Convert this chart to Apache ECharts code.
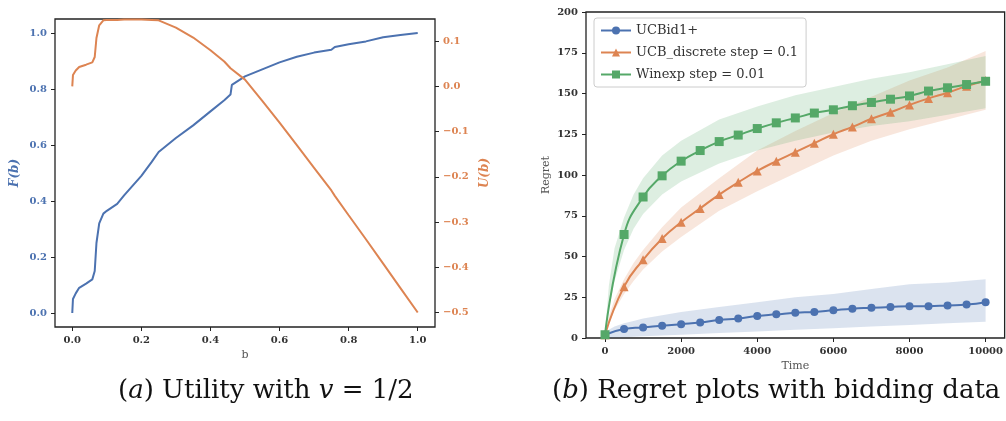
<!DOCTYPE html>
<html>
<head>
  <meta charset="utf-8">
  <title>Utility and regret</title>
  <script src="https://cdn.jsdelivr.net/npm/echarts@6/dist/echarts.min.js"></script>
  <style>
    html, body { margin: 0; padding: 0; background: #fff; }
    #main { width: 1006px; height: 421px; }
  </style>
</head>
<body>
<div id="main"></div>
<script>
  // left panel: F(b) and U(b)
  var bVals = [0, 0.002, 0.01, 0.02, 0.04, 0.058, 0.065, 0.07, 0.078, 0.09, 0.1, 0.13, 0.15, 0.2, 0.23, 0.25,
    0.3, 0.35, 0.4, 0.44, 0.458, 0.462, 0.5, 0.55, 0.6, 0.65, 0.7, 0.75, 0.76, 0.8, 0.85, 0.9, 0.95, 1.0];
  var fVals = [0, 0.05, 0.07, 0.09, 0.105, 0.12, 0.15, 0.25, 0.32, 0.355, 0.365, 0.39, 0.42, 0.49, 0.54, 0.575,
    0.625, 0.67, 0.72, 0.76, 0.78, 0.815, 0.845, 0.87, 0.895, 0.915, 0.93, 0.94, 0.95, 0.96, 0.97, 0.985, 0.993, 1.0];
  var uVals = [0, 0.025, 0.035, 0.043, 0.048, 0.053, 0.065, 0.107, 0.135, 0.146, 0.147, 0.147, 0.148, 0.148, 0.147, 0.146,
    0.13, 0.108, 0.08, 0.055, 0.04, 0.036, 0.015, -0.032, -0.08, -0.13, -0.18, -0.23, -0.242, -0.285, -0.338, -0.392, -0.446, -0.5];

  // right panel: regret curves
  var times = [0, 500, 1000, 1500, 2000, 2500, 3000, 3500, 4000, 4500, 5000, 5500, 6000, 6500, 7000, 7500, 8000, 8500, 9000, 9500, 10000];
  var ucbid = [2, 5.5, 6.5, 7.5, 8.5, 9.5, 11, 12, 13.5, 14.5, 15.5, 16, 17, 18, 18.5, 19, 19.5, 19.5, 20, 20.5, 22];
  var ucbDiscrete = [2, 31.5, 48, 61, 71, 79.5, 88, 95.5, 102.5, 108.5, 114, 119.5, 125, 129.5, 134.5, 138.5, 143, 147, 150.5, 154.5, 158];
  var winexp = [2, 63.5, 86.5, 99.5, 108.5, 115, 120.5, 124.5, 128.5, 132, 135, 138, 140, 142.5, 144.5, 146.5, 148.5, 151.5, 153.5, 155.5, 157.5];

  var bandTimes = [0, 100, 250, 500, 750, 1000, 1500, 2000, 3000, 4000, 5000, 6000, 7000, 8000, 9000, 10000];
  var ucbidLow = [0, 0.1, 0.3, 0.5, 0.8, 1, 1.5, 2, 3, 4, 5, 6, 7, 8, 9, 10];
  var ucbidHigh = [3, 5, 7, 9, 10.5, 12, 14, 16, 19, 22, 25, 27, 30, 33, 34, 36];
  var ucbLow = [1, 9, 17, 27, 35, 42, 53, 62, 78, 90, 101, 112, 121, 128, 134, 140];
  var ucbHigh = [3, 13, 24, 36, 46, 54, 68, 80, 98, 115, 127, 138, 148, 158, 166, 176];
  var winLow = [1, 18, 35, 54, 67, 76, 88, 96, 107, 115, 121, 126, 130, 133, 137, 141];
  var winHigh = [3, 32, 55, 74, 88, 98, 112, 121, 134, 142, 149, 154, 159, 163, 168, 173];

  var blue = '#4c72b0', orange = '#dd8452', green = '#55a868';
  var serif = 'DejaVu Serif';

  function pairs(xs, ys) {
    return xs.map(function (x, i) { return [x, ys[i]]; });
  }
  function band(lo, hi, color) {
    return {
      type: 'custom', xAxisIndex: 1, yAxisIndex: 2, silent: true, z: 1,
      data: bandTimes.map(function (t, i) { return [t, lo[i], hi[i]]; }),
      encode: {x: 0, y: [1, 2]},
      renderItem: function (params, api) {
        if (params.dataIndex !== 0) return;
        var pts = [], i;
        for (i = 0; i < bandTimes.length; i++) pts.push(api.coord([bandTimes[i], hi[i]]));
        for (i = bandTimes.length - 1; i >= 0; i--) pts.push(api.coord([bandTimes[i], lo[i]]));
        return {type: 'polygon', shape: {points: pts}, style: {fill: color, opacity: 0.2}};
      }
    };
  }

  var tickLab = {fontFamily: serif, fontWeight: 'bold', fontSize: 10, color: '#333'};
  var noLine = {show: false, onZero: false};
  var chart = echarts.init(document.getElementById('main'));
  chart.setOption({
    animation: false,
    grid: [
      {left: 55, top: 19, width: 380, height: 308, show: true, borderColor: '#222', borderWidth: 1.3},
      {left: 586, top: 12, width: 427, height: 326, show: true, borderColor: '#222', borderWidth: 1.3}
    ],
    xAxis: [{
      type: 'value', gridIndex: 0, min: -0.05, max: 1.05,
      axisLine: noLine, splitLine: {show: false},
      axisTick: {show: true, customValues: [0, 0.2, 0.4, 0.6, 0.8, 1.0], length: 4, lineStyle: {color: '#222'}},
      axisLabel: Object.assign({customValues: [0, 0.2, 0.4, 0.6, 0.8, 1.0], formatter: function (v) { return v.toFixed(1); }}, tickLab),
      name: 'b', nameLocation: 'middle', nameGap: 22, nameTextStyle: {fontFamily: serif, fontSize: 11, color: '#555'}
    }, {
      type: 'value', gridIndex: 1, min: -500, max: 10500,
      axisLine: noLine, splitLine: {show: false},
      axisTick: {show: true, customValues: [0, 2000, 4000, 6000, 8000, 10000], length: 4, lineStyle: {color: '#222'}},
      axisLabel: Object.assign({customValues: [0, 2000, 4000, 6000, 8000, 10000], formatter: function (v) { return String(v); }}, tickLab),
      name: 'Time', nameLocation: 'middle', nameGap: 22, nameTextStyle: {fontFamily: serif, fontSize: 11, color: '#555'}
    }],
    yAxis: [{
      type: 'value', gridIndex: 0, min: -0.05, max: 1.05,
      axisLine: noLine, splitLine: {show: false},
      axisTick: {show: true, customValues: [0, 0.2, 0.4, 0.6, 0.8, 1.0], length: 4, lineStyle: {color: '#222'}},
      axisLabel: Object.assign({}, tickLab, {customValues: [0, 0.2, 0.4, 0.6, 0.8, 1.0], color: blue, formatter: function (v) { return v.toFixed(1); }}),
      name: 'F(b)', nameLocation: 'middle', nameGap: 34,
      nameTextStyle: {fontFamily: serif, fontStyle: 'italic', fontWeight: 'bold', fontSize: 12, color: blue}
    }, {
      type: 'value', gridIndex: 0, position: 'right', min: -0.532, max: 0.149,
      axisLine: noLine, splitLine: {show: false},
      axisTick: {show: true, customValues: [-0.5, -0.4, -0.3, -0.2, -0.1, 0, 0.1], length: 4, lineStyle: {color: '#222'}},
      axisLabel: Object.assign({}, tickLab, {customValues: [-0.5, -0.4, -0.3, -0.2, -0.1, 0, 0.1], color: orange,
        formatter: function (v) { return (v < 0 ? '\u2212' : '') + Math.abs(v).toFixed(1); }}),
      name: 'U(b)', nameLocation: 'middle', nameGap: 44, nameRotate: 90,
      nameTextStyle: {fontFamily: serif, fontStyle: 'italic', fontWeight: 'bold', fontSize: 12, color: orange}
    }, {
      type: 'value', gridIndex: 1, min: 0, max: 200, interval: 25,
      axisLine: noLine, splitLine: {show: false},
      axisTick: {show: true, length: 4, lineStyle: {color: '#222'}},
      axisLabel: tickLab,
      name: 'Regret', nameLocation: 'middle', nameGap: 34, nameTextStyle: {fontFamily: serif, fontSize: 11, color: '#555'}
    }],
    legend: {
      orient: 'vertical', left: 594, top: 18, itemWidth: 30, itemHeight: 10, itemGap: 9,
      padding: [6, 8, 6, 6], borderColor: '#ccc', borderWidth: 1, borderRadius: 3, backgroundColor: 'rgba(255,255,255,0.8)',
      textStyle: {fontFamily: serif, fontSize: 13, color: '#333'},
      data: ['UCBid1+', 'UCB_discrete step = 0.1', 'Winexp step = 0.01']
    },
    graphic: [
      {type: 'text', left: 118, top: 378, style: {
        text: '({i|a}) Utility with {i|v} = 1/2', font: '26px "DejaVu Serif"', fill: '#111',
        rich: {i: {fontStyle: 'italic', fontFamily: serif, fontSize: 26}}}},
      {type: 'text', left: 552, top: 378, style: {
        text: '({i|b}) Regret plots with bidding data', font: '26px "DejaVu Serif"', fill: '#111',
        rich: {i: {fontStyle: 'italic', fontFamily: serif, fontSize: 26}}}}
    ],
    series: [
      band(ucbidLow, ucbidHigh, blue),
      band(ucbLow, ucbHigh, orange),
      band(winLow, winHigh, green),
      {
        type: 'line', xAxisIndex: 0, yAxisIndex: 0, symbol: 'none', data: pairs(bVals, fVals),
        lineStyle: {color: blue, width: 2}, itemStyle: {color: blue}
      }, {
        type: 'line', xAxisIndex: 0, yAxisIndex: 1, symbol: 'none', data: pairs(bVals, uVals),
        lineStyle: {color: orange, width: 2}, itemStyle: {color: orange}
      }, {
        name: 'UCBid1+', type: 'line', xAxisIndex: 1, yAxisIndex: 2, smooth: true, symbol: 'circle', symbolSize: 8,
        data: pairs(times, ucbid), lineStyle: {color: blue, width: 2}, itemStyle: {color: blue}, z: 3
      }, {
        name: 'UCB_discrete step = 0.1', type: 'line', xAxisIndex: 1, yAxisIndex: 2, smooth: true, symbol: 'triangle', symbolSize: 9,
        data: pairs(times, ucbDiscrete), lineStyle: {color: orange, width: 2}, itemStyle: {color: orange}, z: 3
      }, {
        name: 'Winexp step = 0.01', type: 'line', xAxisIndex: 1, yAxisIndex: 2, smooth: true, symbol: 'rect', symbolSize: 9,
        data: pairs(times, winexp), lineStyle: {color: green, width: 2}, itemStyle: {color: green}, z: 3
      }
    ]
  });
</script>
</body>
</html>
